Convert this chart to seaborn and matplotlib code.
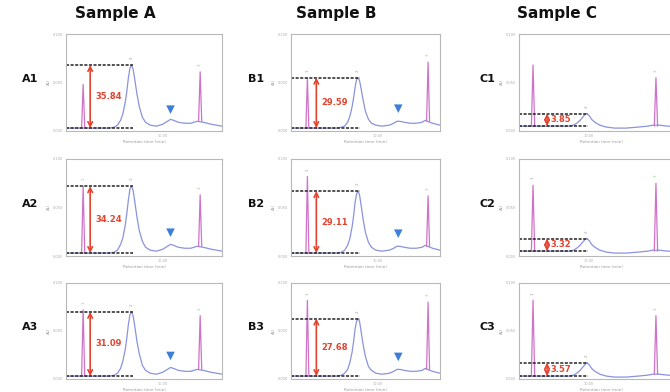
# Chromatograms of samples A, B and C with measured peak heights
import matplotlib
matplotlib.use("Agg")
import matplotlib.pyplot as plt
import seaborn as sns

sns.set_style("white")
plt.rcParams['font.family'] = ['DejaVu Sans']

# column titles and row labels
titles = ["Sample A", "Sample B", "Sample C"]
row_labels = [["A1", "A2", "A3"], ["B1", "B2", "B3"], ["C1", "C2", "C3"]]
height_labels = [["35.84", "34.24", "31.09"],
                 ["29.59", "29.11", "27.68"],
                 ["3.85", "3.32", "3.57"]]

# blue trace (retention time grid per sample, signal in % of full scale)
time_A = [0, 2.8, 3.1, 3.3, 3.5, 3.65, 3.8, 3.9, 4.0, 4.1, 4.2, 4.3, 4.4, 4.55, 4.7,
          4.9, 5.1, 5.4, 5.8, 6.2, 6.5, 6.7, 6.9, 7.2, 7.6, 8.0, 8.4, 8.8, 9.3, 10]
signal_A1 = [3, 3, 4, 6, 11, 18, 30, 41, 55, 65, 68, 64, 54, 38, 25,
             14, 9, 6, 5, 7, 10, 12, 11, 9, 8, 8, 10, 9, 7, 5]
signal_A2 = [3, 3, 4, 6, 12, 19, 32, 44, 58, 69, 72, 68, 57, 40, 26,
             15, 9, 6, 5, 7, 10, 12, 11, 9, 8, 8, 10, 9, 7, 5]
signal_A3 = [3, 3, 4, 6, 11, 19, 31, 43, 57, 67, 70, 66, 56, 39, 26,
             14, 9, 6, 5, 7, 10, 12, 11, 9, 8, 8, 10, 9, 7, 5]

time_B = [0, 3.1, 3.4, 3.6, 3.8, 3.95, 4.1, 4.2, 4.3, 4.4, 4.5, 4.6, 4.7, 4.85, 5.0,
          5.2, 5.4, 5.7, 6.1, 6.6, 6.9, 7.1, 7.3, 7.6, 8.0, 8.4, 8.8, 9.0, 9.5, 10]
signal_B1 = [3, 3, 4, 5, 9, 15, 25, 34, 45, 53, 55, 52, 44, 31, 20,
             12, 8, 6, 5, 6, 8, 10, 10, 9, 8, 8, 9, 11, 8, 6]
signal_B2 = [3, 3, 4, 6, 11, 18, 30, 41, 55, 64, 67, 63, 53, 37, 24,
             14, 9, 6, 5, 6, 8, 10, 10, 9, 8, 8, 9, 11, 8, 6]
signal_B3 = [3, 3, 4, 6, 10, 17, 28, 39, 52, 60, 63, 60, 50, 35, 23,
             13, 9, 6, 5, 6, 8, 10, 10, 9, 8, 8, 9, 11, 8, 6]

time_C = [0, 3.0, 3.3, 3.5, 3.7, 3.85, 4.0, 4.1, 4.25, 4.4, 4.6,
          4.9, 5.3, 5.8, 6.5, 7.2, 7.8, 8.1, 8.5, 9.0, 10]
signal_C1 = [5, 5, 6, 8, 11, 14, 17, 18, 16, 12, 9, 6, 4, 3, 3, 4, 5, 6, 6, 5, 5]
signal_C2 = [5, 5, 6, 8, 11, 14, 17, 18, 16, 12, 9, 6, 4, 3, 3, 4, 5, 6, 6, 5, 5]
signal_C3 = [3, 3, 4, 6, 9, 12, 15, 17, 15, 11, 8, 5, 3, 2, 2, 3, 4, 5, 5, 4, 4]

# sharp pink peaks: (start, apex, end) time and apex height
left_peak_time = [[1.0, 1.1, 1.2], [1.0, 1.1, 1.2], [0.75, 0.85, 0.95]]
left_peak_height = [[48, 72, 72], [55, 82, 82], [68, 73, 82]]
right_peak_time = [[8.5, 8.6, 8.7], [9.1, 9.2, 9.3], [8.2, 8.3, 8.4]]
right_peak_height = [[61, 63, 66], [71, 62, 80], [55, 75, 66]]

# main peak used for the height measurement (time, top, baseline)
main_peak_time = [4.2, 4.5, 4.1]
main_peak_top = [[68, 72, 70], [55, 67, 63], [18, 18, 17]]
baseline = [[3, 3, 3], [3, 3, 3], [5, 5, 3]]

# blue triangle markers on the small bump (sample A and B only)
marker_time = [6.7, 7.2, None]
marker_height = [[22, 24, 24], [23, 23, 23], [None, None, None]]

times = [time_A, time_B, time_C]
signals = [[signal_A1, signal_A2, signal_A3],
           [signal_B1, signal_B2, signal_B3],
           [signal_C1, signal_C2, signal_C3]]

arrow_x = [1.55, 1.7, 1.7]
text_x = [1.9, 2.05, 1.9]
xtick_pos = [6.2, 5.8, 4.2]

col_left = [66 / 670, 291 / 670, 519 / 670]
col_width = [156 / 670, 149 / 670, 165 / 670]
row_bottom = [1 - 131 / 392, 1 - 256 / 392, 1 - 379 / 392]
row_height = [97 / 392, 97 / 392, 96 / 392]
title_x = [115 / 670, 336 / 670, 557 / 670]
label_x = [30 / 670, 256 / 670, 487 / 670]

blue = '#8a93dd'
pink = '#cf72c9'
red = '#e4432f'
green = '#8fcf7f'
gray_txt = '#9a9a9a'

fig = plt.figure(figsize=(6.7, 3.92), dpi=100)

for c in range(3):
    fig.text(title_x[c], 0.965, titles[c], ha='center', va='center',
             fontsize=11, fontweight='bold', color='#111111')
    for r in range(3):
        ax = fig.add_axes([col_left[c], row_bottom[r], col_width[c], row_height[r]])
        # trace
        sns.lineplot(x=times[c], y=signals[c][r], ax=ax, color=blue, lw=0.9,
                     estimator=None, sort=False)
        lp_y = [baseline[c][r], left_peak_height[c][r], baseline[c][r]]
        sns.lineplot(x=left_peak_time[c], y=lp_y, ax=ax, color=pink, lw=0.9,
                     estimator=None, sort=False)
        rb = 10 if c < 2 else 5
        rp_y = [rb, right_peak_height[c][r], rb]
        sns.lineplot(x=right_peak_time[c], y=rp_y, ax=ax, color=pink, lw=0.9,
                     estimator=None, sort=False)

        # peak id labels
        ax.text(right_peak_time[c][1], right_peak_height[c][r] + 6, "3", fontsize=3,
                color=green, ha='center', va='bottom', rotation=90)
        ax.text(main_peak_time[c], main_peak_top[c][r] + 6, "2", fontsize=3,
                color=gray_txt, ha='center', va='bottom', rotation=90)
        if r > 0 or c == 1:
            ax.text(left_peak_time[c][1], left_peak_height[c][r] + 6, "1", fontsize=3,
                    color=green if c == 0 else gray_txt, ha='center', va='bottom', rotation=90)

        # dashed guide lines
        top = main_peak_top[c][r]
        base = baseline[c][r]
        ax.plot([0, main_peak_time[c] + 0.1], [top, top], color='#222222', lw=1.1,
                ls=(0, (2, 1)))
        ax.plot([0, main_peak_time[c] + 0.1], [base, base], color='#222222', lw=1.1,
                ls=(0, (2, 1)))

        # double arrow with measured height
        ax.annotate('', xy=(arrow_x[c], top), xytext=(arrow_x[c], base),
                    arrowprops=dict(arrowstyle='<->', color=red, lw=1.2,
                                    mutation_scale=8, shrinkA=0, shrinkB=0))
        ax.text(text_x[c], (top + base) / 2, height_labels[c][r], color=red,
                fontsize=6, fontweight='bold', ha='left', va='center')

        # blue triangle marker
        if marker_time[c] is not None:
            sns.scatterplot(x=[marker_time[c]], y=[marker_height[c][r]], ax=ax,
                            marker='v', s=38, color='#3d7fd8', edgecolor='none')

        ax.set_xlim(0, 10)
        ax.set_ylim(0, 100)
        ax.set_yticks([0, 50, 100])
        ax.set_yticklabels(['0.000', '0.050', '0.100'])
        ax.set_xticks([xtick_pos[c]])
        ax.set_xticklabels(['10.00'])
        ax.tick_params(labelsize=2.5, length=1.5, width=0.5, colors='#aaaaaa', pad=1)
        ax.set_xlabel('Retention time (min)', fontsize=3, color=gray_txt, labelpad=1)
        ax.set_ylabel('AU', fontsize=3, color=gray_txt, labelpad=1)
        for s in ax.spines.values():
            s.set_color('#b8b8b8')
            s.set_linewidth(0.8)

        fig.text(label_x[c], row_bottom[r] + row_height[r] / 2 + 0.01, row_labels[c][r],
                 ha='center', va='center', fontsize=8, fontweight='bold', color='#111111')

plt.savefig('out.png', dpi=100)
